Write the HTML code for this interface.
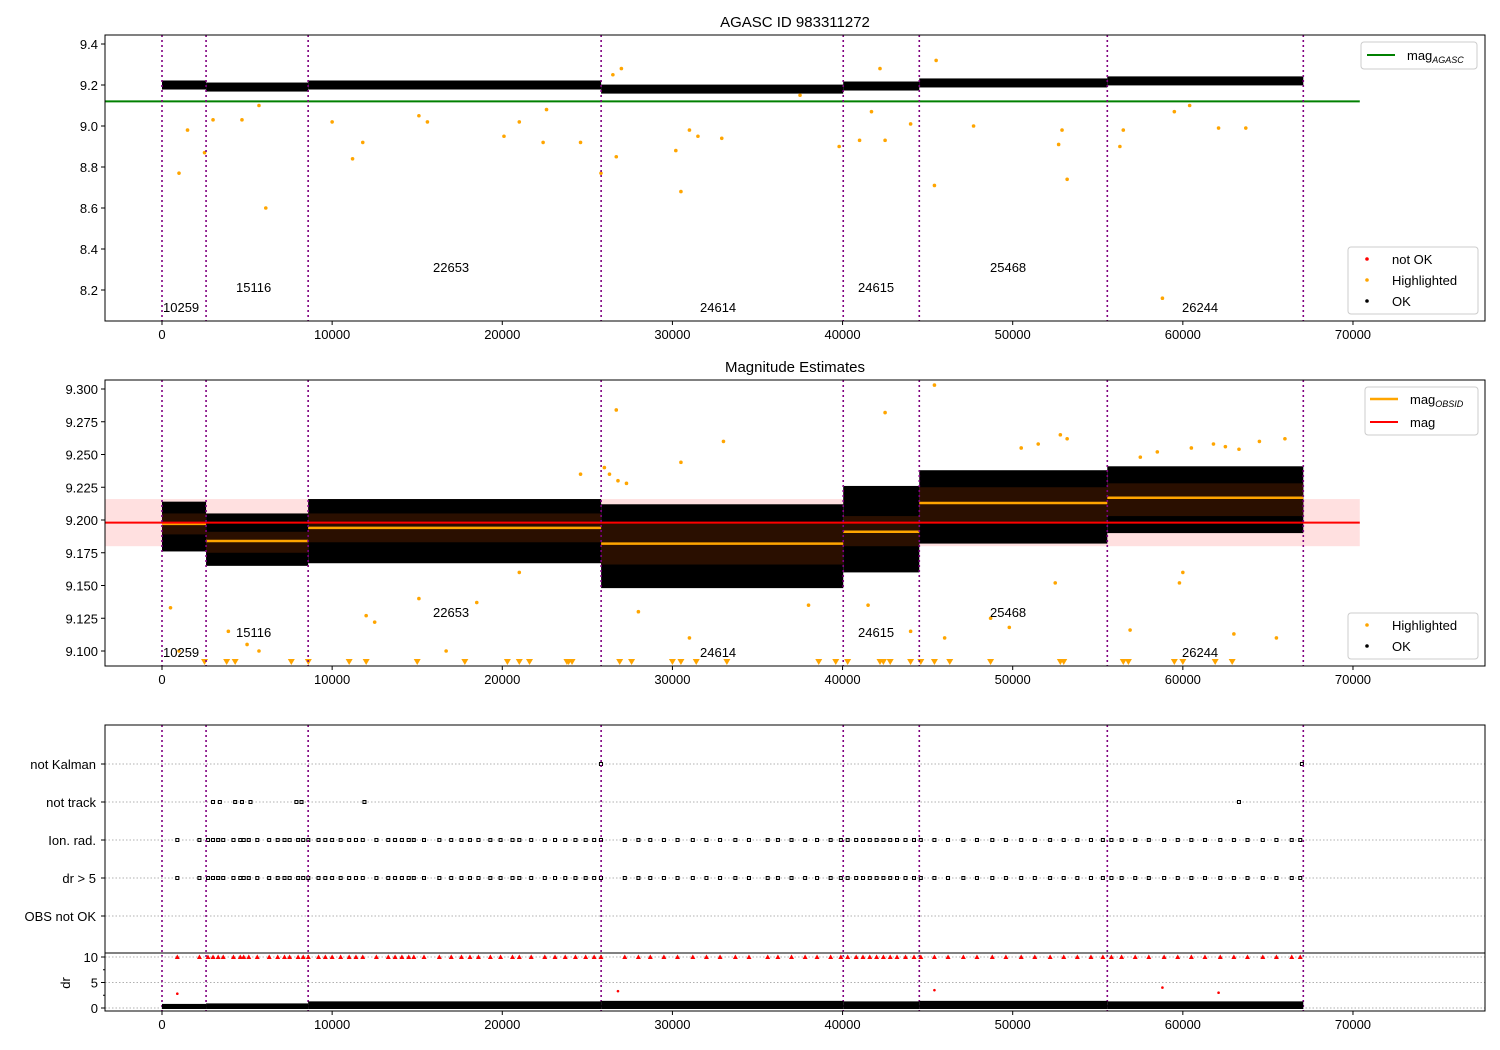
<!DOCTYPE html>
<html><head><meta charset="utf-8"><style>
body{margin:0;background:#fff;}
svg{display:block;font-family:"Liberation Sans","DejaVu Sans",sans-serif;}
</style></head><body>
<svg id="fig" width="1500" height="1050" viewBox="0 0 1500 1050"></svg>
<script>
// ---- data ----
const obsids=["10259","15116","22653","24614","24615","25468","26244"];
const segStart=[0,2590,8590,25810,40040,44510,55560];
const segEnd=[2590,8590,25810,40040,44510,55560,67080];
const segMean=[9.197,9.184,9.194,9.182,9.191,9.213,9.217];
const segHi=[9.214,9.205,9.216,9.212,9.226,9.238,9.241];
const segLo=[9.176,9.165,9.167,9.148,9.160,9.182,9.190];
const segStdHi=[9.205,9.191,9.205,9.198,9.203,9.225,9.228];
const segStdLo=[9.189,9.175,9.183,9.166,9.180,9.198,9.203];
const seg1Mean=[9.200,9.190,9.200,9.180,9.195,9.210,9.220];
const magAgasc=9.12;
const magAll=9.198, magStd=0.018;
const hl1T=[1000,1500,2500,3000,4700,6100,5700,10000,11200,11800,15100,15600,20100,21000,22400,22600,24600,25800,26700,30200,30500,31000,31500,32900,37500,39800,41000,41700,42500,44000,45400,45500,47700,52700,52900,53200,56300,56500,59500,60400,62100,63700,58800,27000,26500,42200];
const hl1M=[8.77,8.98,8.87,9.03,9.03,8.60,9.10,9.02,8.84,8.92,9.05,9.02,8.95,9.02,8.92,9.08,8.92,8.77,8.85,8.88,8.68,8.98,8.95,8.94,9.15,8.90,8.93,9.07,8.93,9.01,8.71,9.32,9.00,8.91,8.98,8.74,8.90,8.98,9.07,9.10,8.99,8.99,8.16,9.28,9.25,9.28];
const hl2T=[500,1000,3900,5000,5700,12000,12500,15100,16700,18500,21000,26700,28000,30500,31000,33000,38000,42500,41500,44000,45400,46000,48700,49800,52500,56900,59800,60000,63000,65500,26000,26300,26800,27300,24600,50500,51500,52800,53200,60500,61800,63300,64500,66000,57500,58500,62500];
const hl2M=[9.133,9.100,9.115,9.105,9.100,9.127,9.122,9.140,9.100,9.137,9.160,9.284,9.130,9.244,9.110,9.260,9.135,9.282,9.135,9.115,9.303,9.110,9.125,9.118,9.152,9.116,9.152,9.160,9.113,9.110,9.240,9.235,9.230,9.228,9.235,9.255,9.258,9.265,9.262,9.255,9.258,9.254,9.260,9.262,9.248,9.252,9.256];
const clipT=[2500,3800,4300,7600,8600,11000,12000,15000,17800,20300,21000,21600,23800,23900,24100,26900,27600,30000,30500,31400,33200,38600,39600,40300,42200,42400,42800,44000,44600,45400,46300,48700,52800,53000,56500,56800,59500,60000,61900,62900];
const events=[900,2200,2700,3000,3300,3600,4200,4600,4800,5100,5600,6300,6800,7200,7500,8000,8300,8600,9200,9600,10000,10500,11000,11400,11800,12600,13300,13700,14100,14500,14800,15400,16300,17000,17600,18100,18600,19300,19900,20600,21000,21700,22500,23100,23700,24300,24900,25400,25800,27200,28000,28700,29500,30300,31200,32000,32800,33700,34500,35600,36200,37000,37800,38500,39300,39900,40300,40800,41200,41600,42000,42400,42800,43200,43700,44200,44600,45400,46200,47100,47900,48800,49600,50500,51300,52200,53000,53800,54600,55300,55800,56400,57200,58000,58900,59700,60500,61300,62200,63000,63800,64700,65500,66400,66900];
const notTrackT=[3000,3400,4300,4700,5200,7900,8200,11900,63300];
const notKalmanT=[25800,67000];
const drRedT=[900,26800,45400,58800,62100];
const drRedV=[2.8,3.3,3.5,4.0,3.0];
const drSegHi=[0.8,0.9,1.3,1.4,1.3,1.4,1.3];
const xTicks=[0,10000,20000,30000,40000,50000,60000,70000];
const y1Ticks=[8.2,8.4,8.6,8.8,9.0,9.2,9.4];
const y2Ticks=[9.100,9.125,9.150,9.175,9.200,9.225,9.250,9.275,9.300];
const cats=["not Kalman","not track","Ion. rad.","dr > 5","OBS not OK"];
const drTicks=[0,5,10];

// ---- scales ----
const X=v=>162+v*0.017014;
const Y1=v=>44+(9.4-v)/0.2*41;
const Y2=v=>389+(9.3-v)*1310;
const catY=[764,802,840,878,916];
const YD=v=>1008-v*5.1;
const L=105,R=1485;
const svg=document.getElementById('fig');
const NS='http://www.w3.org/2000/svg';
function mk(tag,attrs,parent){const e=document.createElementNS(NS,tag);for(const k in attrs)e.setAttribute(k,attrs[k]);(parent||svg).appendChild(e);return e;}
function txt(s,x,y,attrs,parent){const t=mk('text',Object.assign({x:x,y:y,'font-size':13},attrs||{}),parent);t.textContent=s;return t;}

const defs=mk('defs',{});
[['c1',35,321],['c2',380,666],['c3',725,953],['c4',953,1011]].forEach(a=>{const c=document.createElementNS(NS,'clipPath');c.setAttribute('id',a[0]);defs.appendChild(c);mk('rect',{x:L,y:a[1],width:R-L,height:a[2]-a[1]},c);});

function xAxis(yb,g){
  xTicks.forEach(v=>{mk('line',{x1:X(v),x2:X(v),y1:yb,y2:yb+4,stroke:'#000'},g);
    const t=txt(String(v),X(v),yb+18,{'text-anchor':'middle'},g);
    
    });
}
function vlines(y0,y1,g){
  segStart.concat([segEnd[segEnd.length-1]]).forEach(v=>{const l=mk('line',{x1:X(v),x2:X(v),y1:y0,y2:y1,stroke:'#800080','stroke-width':1.6,'stroke-dasharray':'2,3'},g);
    
    });
}
function obsLabels(base,g){
  const offs=[0,-20,-40,0,-20,-40,0];
  const xs=[163,236,433,700,858,990,1182];
  obsids.forEach((o,i)=>{const t=txt(o,xs[i],base+offs[i],{},g);
    
    });
}

// ===== Panel 1 =====
const g1=mk('g',{});


txt('AGASC ID 983311272',795,27,{'text-anchor':'middle','font-size':15,},g1);
const p1=mk('g',{'clip-path':'url(#c1)'},g1);
mk('line',{x1:L,x2:X(70400),y1:Y1(magAgasc),y2:Y1(magAgasc),stroke:'#008000','stroke-width':2,},p1);
segStart.forEach((s,i)=>{const r=mk('rect',{x:X(s),width:X(segEnd[i])-X(s),y:Y1(seg1Mean[i]+0.022),height:Y1(seg1Mean[i]-0.022)-Y1(seg1Mean[i]+0.022),fill:'#000'},p1);
  
  });
hl1T.forEach((t,i)=>{const c=mk('circle',{cx:X(t),cy:Y1(hl1M[i]),r:1.8,fill:'#ffa500'},p1);
  
  });
vlines(35,321,g1);
obsLabels(312,g1);
mk('rect',{x:L,y:35,width:R-L,height:286,fill:'none',stroke:'#000'},g1);
y1Ticks.forEach(v=>{mk('line',{x1:L-4,x2:L,y1:Y1(v),y2:Y1(v),stroke:'#000'},g1);txt(v.toFixed(1),L-7,Y1(v)+5,{'text-anchor':'end',},g1);});
xAxis(321,g1);
const lg1=mk('g',{},g1);
mk('rect',{x:1361,y:42,width:116,height:27,rx:3,fill:'#fff',stroke:'#ccc'},lg1);
mk('line',{x1:1367,x2:1395,y1:55,y2:55,stroke:'#008000','stroke-width':2},lg1);
const tm=txt('mag',1407,60,{},lg1);const ts=mk('tspan',{'font-size':9,'font-style':'italic',dy:3},tm);ts.textContent='AGASC';
const lg2=mk('g',{},g1);
mk('rect',{x:1348,y:247,width:130,height:67,rx:3,fill:'#fff',stroke:'#ccc'},lg2);
[['not OK','#f00',259],['Highlighted','#ffa500',280],['OK','#000',301]].forEach(a=>{mk('circle',{cx:1367,cy:a[2],r:1.8,fill:a[1]},lg2);txt(a[0],1392,a[2]+5,{},lg2);});

// ===== Panel 2 =====
const g2=mk('g',{});


txt('Magnitude Estimates',795,372,{'text-anchor':'middle','font-size':15,},g2);
const p2=mk('g',{'clip-path':'url(#c2)'},g2);
mk('rect',{x:L,y:Y2(magAll+magStd),width:X(70400)-L,height:Y2(magAll-magStd)-Y2(magAll+magStd),fill:'rgba(255,0,0,0.12)',},p2);
segStart.forEach((s,i)=>{
  const r=mk('rect',{x:X(s),width:X(segEnd[i])-X(s),y:Y2(segHi[i]),height:Y2(segLo[i])-Y2(segHi[i]),fill:'#000'},p2);
  
  
  const r2=mk('rect',{x:X(s),width:X(segEnd[i])-X(s),y:Y2(segStdHi[i]),height:Y2(segStdLo[i])-Y2(segStdHi[i]),fill:'#2a0f00'},p2);
  
  
});
segStart.forEach((s,i)=>{const l=mk('line',{x1:X(s),x2:X(segEnd[i]),y1:Y2(segMean[i]),y2:Y2(segMean[i]),stroke:'#ffa500','stroke-width':2.5},p2);
  
  });
mk('line',{x1:L,x2:X(70400),y1:Y2(magAll),y2:Y2(magAll),stroke:'#f00','stroke-width':2,},p2);
hl2T.forEach((t,i)=>{const c=mk('circle',{cx:X(t),cy:Y2(hl2M[i]),r:1.8,fill:'#ffa500'},p2);
  
  });
clipT.forEach(t=>{const x=X(t);const p=mk('path',{d:`M${x-3.5},659 L${x+3.5},659 L${x},665 Z`,fill:'#ffa500'},p2);
  
  });
vlines(380,666,g2);
obsLabels(657,g2);
mk('rect',{x:L,y:380,width:R-L,height:286,fill:'none',stroke:'#000'},g2);
y2Ticks.forEach(v=>{mk('line',{x1:L-4,x2:L,y1:Y2(v),y2:Y2(v),stroke:'#000'},g2);txt(v.toFixed(3),L-7,Y2(v)+5,{'text-anchor':'end',},g2);});
xAxis(666,g2);
const lg3=mk('g',{},g2);
mk('rect',{x:1365,y:387,width:113,height:48,rx:3,fill:'#fff',stroke:'#ccc'},lg3);
mk('line',{x1:1370,x2:1398,y1:399,y2:399,stroke:'#ffa500','stroke-width':2.5},lg3);
const tm2=txt('mag',1410,404,{},lg3);const ts2=mk('tspan',{'font-size':9,'font-style':'italic',dy:3},tm2);ts2.textContent='OBSID';
mk('line',{x1:1370,x2:1398,y1:422,y2:422,stroke:'#f00','stroke-width':2},lg3);
txt('mag',1410,427,{},lg3);
const lg4=mk('g',{},g2);
mk('rect',{x:1348,y:613,width:130,height:46,rx:3,fill:'#fff',stroke:'#ccc'},lg4);
[['Highlighted','#ffa500',625],['OK','#000',646]].forEach(a=>{mk('circle',{cx:1367,cy:a[2],r:1.8,fill:a[1]},lg4);txt(a[0],1392,a[2]+5,{},lg4);});

// ===== Panel 3 =====
const g3=mk('g',{});


catY.forEach((y,i)=>{mk('line',{x1:L,x2:R,y1:y,y2:y,stroke:'#b0b0b0','stroke-dasharray':'1.5,2'},g3);
  mk('line',{x1:L-4,x2:L,y1:y,y2:y,stroke:'#000'},g3);
  txt(cats[i],L-9,y+5,{'text-anchor':'end',},g3);});
const p3=mk('g',{'clip-path':'url(#c3)'},g3);
function flagRow(arr,y,nm){arr.forEach(t=>{const r=mk('rect',{x:X(t)-1.5,y:y-1.5,width:3,height:3,fill:'none',stroke:'#000','stroke-width':1},p3);
  
  });}
flagRow(notKalmanT,catY[0],'not-kalman-flag');
flagRow(notTrackT,catY[1],'not-track-flag');
flagRow(events,catY[2],'ion-rad-flag');
flagRow(events,catY[3],'dr-flag');
vlines(725,1011,g3);
mk('rect',{x:L,y:725,width:R-L,height:228,fill:'none',stroke:'#000'},g3);
// dr subpanel
const g4=mk('g',{});


drTicks.forEach(v=>{mk('line',{x1:L,x2:R,y1:YD(v),y2:YD(v),stroke:'#b0b0b0','stroke-dasharray':'1.5,2'},g4);
  mk('line',{x1:L-4,x2:L,y1:YD(v),y2:YD(v),stroke:'#000'},g4);
  txt(String(v),L-7,YD(v)+5,{'text-anchor':'end',},g4);});
[2.5,7.5].forEach(v=>mk('line',{x1:L-2,x2:L,y1:YD(v),y2:YD(v),stroke:'#000'},g4));
const p4=mk('g',{'clip-path':'url(#c4)'},g4);
segStart.forEach((s,i)=>{const r=mk('rect',{x:X(s),width:X(segEnd[i])-X(s),y:YD(drSegHi[i]),height:YD(0)-YD(drSegHi[i])+1,fill:'#000'},p4);
  
  });
events.forEach(t=>{const x=X(t);const p=mk('path',{d:`M${x-2.5},${YD(10)+2} L${x+2.5},${YD(10)+2} L${x},${YD(10)-2.5} Z`,fill:'#f00'},p4);
  
  });
drRedT.forEach((t,i)=>{const c=mk('circle',{cx:X(t),cy:YD(drRedV[i]),r:1.3,fill:'#f00'},p4);
  
  });
mk('rect',{x:L,y:953,width:R-L,height:58,fill:'none',stroke:'#000'},g4);
txt('dr',70,983,{'text-anchor':'middle',transform:'rotate(-90 70 983)',},g4);
xAxis(1011,g4);
</script>
</body></html>
